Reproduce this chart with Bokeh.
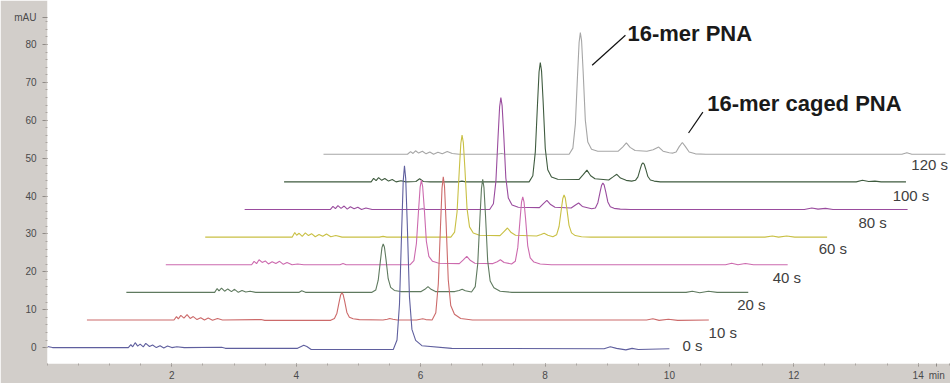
from bokeh.plotting import figure
from bokeh.models import Label, Range1d, FixedTicker
from bokeh.embed import file_html
from bokeh.resources import INLINE

# ---------------- data ----------------
run_labels = ["0 s", "10 s", "20 s", "40 s", "60 s", "80 s", "100 s", "120 s"]
run_colors = ["#5f5f9e", "#cc6a6a", "#5f7a5f", "#cc6aae", "#c9c044", "#9a4c9e", "#3f5b3f", "#a6a6a6"]

# each chromatogram: (retention time [min], absorbance [mAU])
trace_0s = [
    (0.00, 0.3), (0.08, 0.0), (1.30, 0.0), (1.34, 0.8), (1.37, 0.2), (1.41, 1.3), (1.45, 0.4),
    (1.49, 0.9), (1.54, 0.2), (1.58, 1.1), (1.64, 0.3), (1.69, 0.7), (1.75, 0.0), (1.81, 0.5),
    (1.87, -0.1), (1.93, 0.4), (2.00, 0.0), (2.08, 0.2), (2.20, 0.0), (2.80, 0.1), (2.86, -0.2),
    (4.02, -0.2), (4.08, 0.3), (4.12, 0.6), (4.17, 0.3), (4.24, -0.5),
    (5.56, -0.5), (5.62, 2.0), (5.66, 11.5), (5.695, 31.0), (5.72, 44.0), (5.74, 48.0),
    (5.76, 44.6), (5.785, 32.6), (5.82, 13.4), (5.86, 4.8), (5.92, 1.9), (6.02, 0.5), (6.50, -0.2),
    (8.95, -0.3), (9.05, 0.2), (9.15, -0.2), (9.30, -0.6), (9.40, -0.2), (9.50, -0.5), (10.00, -0.3),
]
trace_10s = [
    (0.00, 0.0), (1.40, 0.0), (1.44, 0.9), (1.47, 0.3), (1.51, 1.2), (1.56, 0.5), (1.61, 1.4),
    (1.66, 0.4), (1.71, 0.9), (1.77, 0.1), (1.83, 0.6), (1.89, 0.0), (1.95, 0.5), (2.02, -0.1),
    (2.10, 0.4), (2.18, 0.0), (2.80, 0.1), (2.86, -0.1), (3.92, -0.1),
    (3.98, 0.4), (4.02, 1.8), (4.055, 4.7), (4.08, 6.6), (4.10, 7.2), (4.12, 6.7), (4.145, 4.9),
    (4.18, 2.0), (4.22, 0.7), (4.28, 0.3), (4.38, 0.1),
    (4.76, 0.0), (4.83, 0.2), (4.87, 0.4), (4.92, 0.2), (4.99, 0.0),
    (5.30, 0.0), (5.36, 0.2), (5.40, 0.3), (5.45, 0.1), (5.55, 0.0),
    (5.61, 1.9), (5.65, 9.5), (5.685, 24.6), (5.71, 34.8), (5.73, 37.8), (5.75, 35.2),
    (5.775, 25.7), (5.81, 10.6), (5.85, 3.8), (5.91, 1.5), (6.01, 0.4), (6.20, 0.0),
    (9.00, 0.0), (9.10, 0.3), (9.20, -0.1), (9.35, 0.2), (9.50, -0.1), (10.00, 0.0),
]
trace_20s = [
    (0.00, 0.0), (1.42, 0.0), (1.46, 1.0), (1.49, 0.4), (1.53, 1.1), (1.58, 0.3), (1.63, 0.9),
    (1.69, 0.2), (1.74, 0.8), (1.80, 0.0), (1.86, 0.5), (1.92, 0.1), (1.99, 0.3), (2.08, 0.0),
    (2.78, 0.0), (2.82, 0.4), (2.88, 0.0), (3.95, 0.0),
    (4.01, 0.6), (4.05, 3.2), (4.085, 8.3), (4.11, 11.8), (4.13, 12.8), (4.15, 11.9),
    (4.175, 8.7), (4.21, 3.6), (4.25, 1.3), (4.31, 0.5), (4.41, 0.2),
    (4.74, 0.2), (4.80, 0.8), (4.85, 1.5), (4.90, 0.8), (4.97, 0.2),
    (5.28, 0.2), (5.35, 0.5), (5.40, 0.8), (5.45, 0.4), (5.55, 0.1),
    (5.61, 1.5), (5.65, 7.5), (5.685, 19.4), (5.71, 27.4), (5.73, 29.8), (5.75, 27.7),
    (5.775, 20.3), (5.81, 8.3), (5.85, 3.0), (5.91, 1.2), (6.01, 0.3), (6.20, 0.0),
    (9.00, 0.0), (9.10, 0.3), (9.22, -0.1), (9.36, 0.3), (9.50, 0.0), (10.00, 0.0),
]
trace_40s = [
    (0.00, 0.0), (1.38, 0.0), (1.42, 0.9), (1.46, 0.3), (1.50, 1.3), (1.55, 0.6), (1.60, 1.0),
    (1.65, 0.2), (1.71, 0.8), (1.77, 0.3), (1.83, 0.9), (1.89, 0.1), (1.95, 0.6), (2.03, 0.0),
    (2.12, 0.2), (2.22, 0.0), (2.80, 0.0), (2.85, 0.3), (2.90, 0.0), (3.93, 0.0),
    (3.99, 1.1), (4.03, 5.6), (4.065, 14.5), (4.09, 20.5), (4.11, 22.3), (4.13, 20.7),
    (4.155, 15.2), (4.19, 6.2), (4.23, 2.2), (4.29, 0.9), (4.39, 0.4),
    (4.72, 0.3), (4.78, 1.2), (4.84, 2.2), (4.90, 1.1), (4.97, 0.4),
    (5.26, 0.3), (5.33, 0.8), (5.38, 1.3), (5.44, 0.6), (5.56, 0.2),
    (5.62, 0.9), (5.66, 4.5), (5.695, 11.6), (5.72, 16.5), (5.74, 17.9), (5.76, 16.6),
    (5.785, 12.2), (5.82, 5.0), (5.86, 1.8), (5.92, 0.7), (6.02, 0.2), (6.20, 0.0),
    (9.00, 0.0), (9.10, 0.4), (9.20, 0.0), (9.32, 0.3), (9.45, 0.0), (10.00, 0.0),
]
trace_60s = [
    (0.00, 0.0), (1.40, 0.0), (1.44, 1.2), (1.47, 0.5), (1.51, 1.0), (1.56, 0.2), (1.61, 1.1),
    (1.66, 0.4), (1.71, 0.9), (1.77, 0.1), (1.83, 0.7), (1.89, 0.2), (1.95, 0.8), (2.02, 0.1),
    (2.10, 0.4), (2.20, 0.0), (2.80, 0.0), (2.86, 0.2), (2.92, 0.0), (3.95, 0.0),
    (4.01, 1.3), (4.05, 6.7), (4.085, 17.5), (4.11, 24.7), (4.13, 26.9), (4.15, 25.0),
    (4.175, 18.3), (4.21, 7.5), (4.25, 2.7), (4.31, 1.1), (4.41, 0.5),
    (4.74, 0.4), (4.80, 1.4), (4.86, 2.4), (4.92, 1.2), (4.99, 0.5),
    (5.33, 0.3), (5.40, 0.7), (5.45, 1.0), (5.51, 0.5), (5.59, 0.1),
    (5.65, 0.6), (5.69, 2.8), (5.725, 7.2), (5.75, 10.2), (5.77, 11.1), (5.79, 10.3),
    (5.815, 7.5), (5.85, 3.1), (5.89, 1.1), (5.95, 0.4), (6.05, 0.1), (6.20, 0.0),
    (9.00, 0.0), (9.12, 0.3), (9.22, 0.0), (9.35, 0.3), (9.48, 0.0), (10.00, 0.0),
]
trace_80s = [
    (0.00, 0.0), (1.38, 0.0), (1.42, 0.8), (1.46, 0.2), (1.50, 1.0), (1.55, 0.3), (1.60, 0.9),
    (1.65, 0.1), (1.70, 0.7), (1.76, 0.2), (1.82, 0.6), (1.88, 0.0), (1.95, 0.4), (2.05, 0.0),
    (2.80, 0.0), (2.86, 0.2), (2.92, 0.0), (3.94, 0.0),
    (4.00, 1.5), (4.04, 7.4), (4.075, 19.2), (4.10, 27.1), (4.12, 29.5), (4.14, 27.4),
    (4.165, 20.1), (4.20, 8.3), (4.24, 3.0), (4.30, 1.2), (4.40, 0.6),
    (4.74, 0.5), (4.80, 1.5), (4.86, 2.4), (4.92, 1.3), (4.99, 0.6),
    (5.25, 0.4), (5.32, 1.2), (5.37, 1.7), (5.43, 0.8), (5.58, 0.2),
    (5.64, 0.4), (5.68, 1.8), (5.715, 4.6), (5.74, 6.4), (5.76, 7.0), (5.78, 6.5),
    (5.805, 4.8), (5.84, 2.0), (5.88, 0.7), (5.94, 0.3), (6.04, 0.1), (6.20, 0.0),
    (9.00, 0.0), (9.12, 0.4), (9.22, 0.1), (9.34, 0.3), (9.46, 0.0), (10.66, 0.0),
]
trace_100s = [
    (0.00, 0.0), (1.40, 0.0), (1.44, 0.9), (1.48, 0.3), (1.52, 1.1), (1.57, 0.4), (1.62, 0.9),
    (1.68, 0.2), (1.74, 0.6), (1.80, 0.0), (1.88, 0.3), (1.96, 0.0), (2.12, 0.1), (2.18, 0.8),
    (2.24, 0.1), (2.35, 0.0), (2.80, 0.0), (2.86, 0.2), (2.92, 0.0), (3.94, 0.0),
    (4.00, 1.6), (4.04, 7.9), (4.075, 20.5), (4.10, 29.0), (4.12, 31.5), (4.14, 29.3),
    (4.165, 21.4), (4.20, 8.8), (4.24, 3.2), (4.30, 1.3), (4.40, 0.7),
    (4.74, 0.6), (4.81, 1.9), (4.87, 3.1), (4.93, 1.6), (5.00, 0.8),
    (5.22, 0.5), (5.29, 1.3), (5.35, 2.0), (5.41, 1.0), (5.50, 0.4), (5.59, 0.2),
    (5.65, 0.4), (5.69, 1.3), (5.725, 3.3), (5.75, 4.6), (5.77, 5.0), (5.79, 4.7),
    (5.815, 3.4), (5.85, 1.4), (5.89, 0.5), (5.95, 0.2), (6.05, 0.0),
    (9.20, 0.0), (9.30, 0.4), (9.40, 0.1), (9.50, 0.2), (9.60, 0.0), (10.00, 0.0),
]
trace_120s = [
    (0.00, 0.0), (1.35, 0.0), (1.40, 0.7), (1.44, 0.2), (1.48, 0.9), (1.53, 0.3), (1.59, 0.8),
    (1.65, 0.1), (1.71, 0.6), (1.77, 0.0), (1.84, 0.5), (1.91, 0.1), (1.99, 0.7), (2.07, 0.2),
    (2.18, 0.0), (2.80, 0.0), (2.86, 0.2), (2.92, 0.0), (3.95, 0.0),
    (4.01, 1.6), (4.05, 8.0), (4.085, 20.9), (4.11, 29.5), (4.13, 32.1), (4.15, 29.9),
    (4.175, 21.8), (4.21, 9.0), (4.25, 3.2), (4.31, 1.3), (4.41, 0.8),
    (4.74, 0.8), (4.81, 1.9), (4.87, 3.0), (4.93, 1.8), (5.01, 1.0),
    (5.20, 0.8), (5.30, 1.2), (5.39, 1.9), (5.46, 0.8), (5.56, 0.4),
    (5.62, 0.3), (5.67, 0.6), (5.72, 2.0), (5.77, 3.1), (5.82, 2.0), (5.88, 0.6),
    (5.98, 0.1), (6.15, 0.0),
    (9.30, 0.0), (9.38, 0.4), (9.46, 0.0), (10.00, 0.0),
]
traces = [trace_0s, trace_10s, trace_20s, trace_40s, trace_60s, trace_80s, trace_100s, trace_120s]

# peaks annotated in the last run (retention time, height)
pna_peak_120s = (4.13, 32.1)
caged_peak_120s = (5.77, 3.1)

x_ticks = [2, 4, 6, 8, 10, 12, 14]
y_ticks = [0, 10, 20, 30, 40, 50, 60, 70, 80]
x_unit, y_unit = "min", "mAU"

# ---------------- layout ----------------
X_STEP = 0.634   # waterfall offset per run, min
Y_STEP = 7.29    # waterfall offset per run, mAU
X_UNIT_POS = 14.3
Y_UNIT_POS = 87

# run-label anchors (left edge, vertical centre) in plot units
label_pos = [(10.21, 0.6), (10.63, 3.9), (11.09, 11.5), (11.66, 18.4),
             (12.40, 26.2), (13.04, 33.1), (13.59, 40.2), (13.89, 48.3)]

FONT = "Liberation Sans"
GRAY_BAND = "#d2ceca"

p = figure(width=950, height=383,
           x_range=Range1d(0, 14.52), y_range=Range1d(-4.2, 91.6),
           output_backend="svg", toolbar_location=None,
           min_border_left=47, min_border_right=0, min_border_top=0, min_border_bottom=18)
p.border_fill_color = GRAY_BAND
p.background_fill_color = "white"
p.outline_line_color = None
p.grid.visible = False

p.xaxis.ticker = FixedTicker(ticks=x_ticks + [X_UNIT_POS], minor_ticks=[0.5 * k for k in range(0, 30)])
p.yaxis.ticker = FixedTicker(ticks=y_ticks + [Y_UNIT_POS], minor_ticks=[2 * k for k in range(0, 44)])
p.xaxis.major_label_overrides = {X_UNIT_POS: x_unit}
p.yaxis.major_label_overrides = {Y_UNIT_POS: y_unit}
for ax in (p.xaxis, p.yaxis):
    ax.axis_line_color = None
    ax.major_tick_line_color = "#8f8a86"
    ax.minor_tick_line_color = "#aaa5a1"
    ax.major_tick_in = 0
    ax.minor_tick_in = 0
    ax.major_label_text_font = FONT
    ax.major_label_text_font_size = "10px"
    ax.major_label_text_color = "#4a4a4a"
p.xaxis.major_tick_out = 3
p.xaxis.minor_tick_out = 2
p.xaxis.major_label_standoff = 3
p.yaxis.major_tick_out = 5
p.yaxis.minor_tick_out = 2
p.yaxis.major_label_standoff = 6

# draw back (120 s) to front (0 s)
for i in reversed(range(len(traces))):
    tr = traces[i]
    xs = [t + i * X_STEP for t, _ in tr]
    ys = [v + i * Y_STEP for _, v in tr]
    p.line(xs, ys, line_color=run_colors[i], line_width=1.1)
    lx, ly = label_pos[i]
    p.add_layout(Label(x=lx, y=ly, text=run_labels[i], text_font=FONT,
                       text_font_size="15px", text_color="#404040",
                       text_align="left", text_baseline="middle"))

# peak annotations
last = len(traces) - 1
px_, py_ = pna_peak_120s[0] + last * X_STEP, pna_peak_120s[1] + last * Y_STEP
p.line([px_ + 0.19, px_ + 0.725], [py_ - 8.6, py_ - 0.7], line_color="#111111", line_width=1.2)
p.add_layout(Label(x=px_ + 0.757, y=py_ - 0.2, text="16-mer PNA", text_font=FONT,
                   text_font_size="22px", text_font_style="bold", text_color="#1a1a1a",
                   text_align="left", text_baseline="middle"))
cx_, cy_ = caged_peak_120s[0] + last * X_STEP, caged_peak_120s[1] + last * Y_STEP
p.line([cx_ + 0.10, cx_ + 0.33], [cy_ + 2.5, cy_ + 8.0], line_color="#111111", line_width=1.2)
p.add_layout(Label(x=cx_ + 0.40, y=cy_ + 10.2, text="16-mer caged PNA", text_font=FONT,
                   text_font_size="22px", text_font_style="bold", text_color="#1a1a1a",
                   text_align="left", text_baseline="middle"))

open("out.html", "w").write(file_html(p, INLINE))
